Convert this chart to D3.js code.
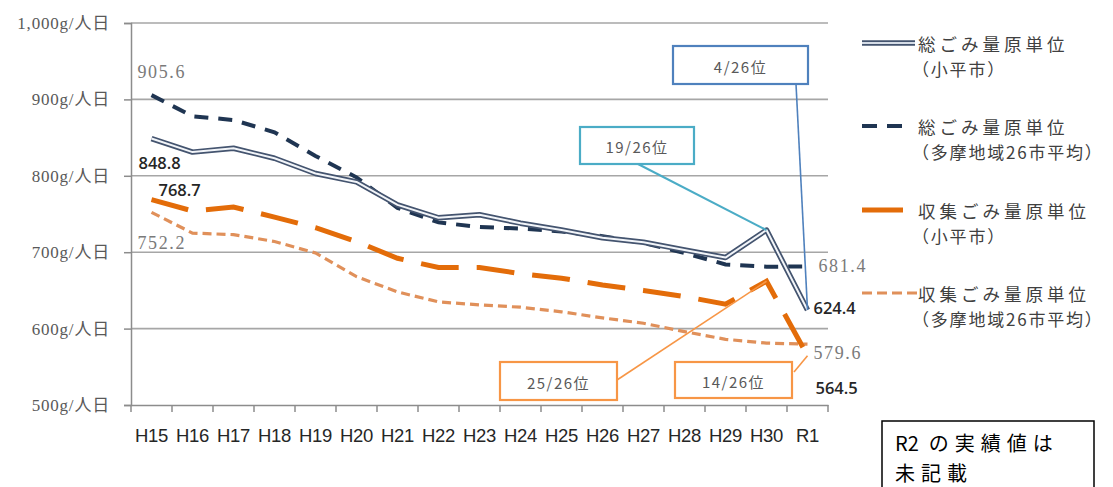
<!DOCTYPE html>
<html><head><meta charset="utf-8">
<script src="https://cdn.jsdelivr.net/npm/d3@7"></script>
<style>
html,body{margin:0;padding:0;background:#fff;}
svg{display:block;}
</style></head><body>
<svg id="chart" width="1113" height="487"></svg>
<script>
// Fiscal years (Heisei 15 .. Heisei 30, Reiwa 1)
const categories = ["H15","H16","H17","H18","H19","H20","H21","H22","H23","H24","H25","H26","H27","H28","H29","H30","R1"];

// g per person per day
const kodairaTotal     = [848.8, 831, 836, 823, 803, 792, 762, 745, 749, 738, 729, 719, 713, 703, 693, 729, 624.4];
const tamaTotal        = [905.6, 878, 873, 857, 826, 798, 758, 739, 733, 731, 727, 721, 712, 699, 684, 681, 681.4];
const kodairaCollected = [768.7, 754, 759, 746, 732, 714, 692, 680, 680, 672, 666, 657, 650, 642, 632, 662, 564.5];
const tamaCollected    = [752.2, 725, 723, 714, 699, 668, 648, 635, 631, 628, 622, 614, 607, 596, 586, 581, 579.6];

const yTicks = [500, 600, 700, 800, 900, 1000];

const seriesNames = [
  ["総ごみ量原単位", "（小平市）"],
  ["総ごみ量原単位", "（多摩地域26市平均）"],
  ["収集ごみ量原単位", "（小平市）"],
  ["収集ごみ量原単位", "（多摩地域26市平均）"]
];

// Rank among the 26 Tama cities
const rankTexts = ["4/26位", "19/26位", "25/26位", "14/26位"];
const noteLines = ["R2 の実績値は", "未記載"];

const svg = d3.select("#chart");
const x = d3.scaleBand().domain(categories).range([131, 828]).padding(0);
const y = d3.scaleLinear().domain([500, 1000]).range([405, 23]);
const cx = c => x(c) + x.bandwidth() / 2;

// grid
svg.append("g").selectAll("line").data(yTicks.slice(1)).join("line")
  .attr("x1", 131).attr("x2", 828)
  .attr("y1", d => y(d)).attr("y2", d => y(d))
  .attr("stroke", "#a6a6a6").attr("stroke-width", 1.6);

// y axis
const yAxis = svg.append("g").attr("transform", "translate(131,0)")
  .call(d3.axisLeft(y).tickValues(yTicks).tickSize(7).tickPadding(14)
    .tickFormat(d => d3.format(",")(d) + "g/人日"));
yAxis.select(".domain").attr("stroke", "#8c8c8c").attr("stroke-width", 1.5);
yAxis.selectAll(".tick line").attr("stroke", "#8c8c8c").attr("stroke-width", 1.5);
yAxis.selectAll(".tick text")
  .attr("font-family", "'Liberation Serif','Noto Sans CJK JP',serif")
  .attr("font-size", 17).attr("letter-spacing", "0.8px").attr("fill", "#595959");

// x axis: labels centred in each band, ticks on band edges
const xAxis = svg.append("g").attr("transform", "translate(0,405)")
  .call(d3.axisBottom(x).tickSize(0).tickPadding(24));
xAxis.select(".domain").attr("stroke", "#8c8c8c").attr("stroke-width", 1.5);
xAxis.selectAll(".tick text")
  .attr("font-family", "'Liberation Sans',sans-serif")
  .attr("font-size", 18.5).attr("letter-spacing", "-0.3px").attr("fill", "#262626");
const edges = categories.map(c => x(c)).concat([x(categories[categories.length - 1]) + x.bandwidth()]);
svg.append("g").selectAll("line").data(edges).join("line")
  .attr("x1", d => d).attr("x2", d => d).attr("y1", 405).attr("y2", 412)
  .attr("stroke", "#8c8c8c").attr("stroke-width", 1.5);

const line = d3.line().x((d, i) => cx(categories[i])).y(d => y(d));

// 収集ごみ量 (26市平均)
svg.append("path").datum(tamaCollected).attr("d", line)
  .attr("fill", "none").attr("stroke", "#e0905a").attr("stroke-width", 3.2)
  .attr("stroke-dasharray", "9,5");
// 収集ごみ量 (小平市)
svg.append("path").datum(kodairaCollected).attr("d", line)
  .attr("fill", "none").attr("stroke", "#e36c09").attr("stroke-width", 5)
  .attr("stroke-dasharray", "38,18");
// 総ごみ量 (26市平均)
svg.append("path").datum(tamaTotal).attr("d", line)
  .attr("fill", "none").attr("stroke", "#1f3552").attr("stroke-width", 4)
  .attr("stroke-dasharray", "14,10");
// 総ごみ量 (小平市): double line
svg.append("path").datum(kodairaTotal).attr("d", line)
  .attr("fill", "none").attr("stroke", "#44546f").attr("stroke-width", 5.5)
  .attr("stroke-linejoin", "round");
svg.append("path").datum(kodairaTotal).attr("d", line)
  .attr("fill", "none").attr("stroke", "#f2f5f9").attr("stroke-width", 2)
  .attr("stroke-linejoin", "round");

// value labels
const last = categories.length - 1;
const valueLabels = [
  { v: tamaTotal[0],            i: 0,    dx: -14, dy: -23, style: "serif" },
  { v: kodairaTotal[0],         i: 0,    dx: -13, dy: 24,  style: "sans" },
  { v: kodairaCollected[0],     i: 0,    dx: 7,   dy: -10, style: "sans" },
  { v: tamaCollected[0],        i: 0,    dx: -14, dy: 31,  style: "serif" },
  { v: tamaTotal[last],         i: last, dx: 11,  dy: 0,   style: "serif" },
  { v: kodairaTotal[last],      i: last, dx: 6,   dy: -2,  style: "sans" },
  { v: tamaCollected[last],     i: last, dx: 6,   dy: 9,   style: "serif" },
  { v: kodairaCollected[last],  i: last, dx: 8,   dy: 32,  style: "sans" }
];
svg.append("g").selectAll("text").data(valueLabels).join("text")
  .attr("x", d => cx(categories[d.i]) + d.dx)
  .attr("y", d => y(d.v) + d.dy)
  .attr("dominant-baseline", "central")
  .attr("font-family", d => d.style === "serif" ? "'Liberation Serif',serif" : "'Open Sans',sans-serif")
  .attr("font-size", d => d.style === "serif" ? 18 : 16.5)
  .attr("font-weight", d => d.style === "serif" ? 400 : 600)
  .attr("letter-spacing", d => d.style === "serif" ? "1.6px" : "0px")
  .attr("fill", d => d.style === "serif" ? "#7a7a7a" : "#262626")
  .text(d => d3.format(".1f")(d.v));

// rank callouts
const callouts = [
  { text: rankTexts[0], box: [673, 46, 135, 38], from: [796, 84],  to: [last, kodairaTotal[last]],         color: "#4f81bd", lw: 1.6 },
  { text: rankTexts[1], box: [580, 127, 114, 37], from: [638, 164], to: [last - 1, kodairaTotal[last - 1]], color: "#4bacc6", lw: 2 },
  { text: rankTexts[2], box: [500, 362, 117, 38], from: [617, 380], to: [last - 1, kodairaCollected[last - 1]], color: "#f79646", lw: 1.6 },
  { text: rankTexts[3], box: [675, 362, 117, 36], from: [794, 372], to: [last, kodairaCollected[last]],     color: "#f79646", lw: 1.6 }
];
const cg = svg.append("g");
cg.selectAll("line").data(callouts).join("line")
  .attr("x1", d => d.from[0]).attr("y1", d => d.from[1])
  .attr("x2", d => cx(categories[d.to[0]])).attr("y2", d => y(d.to[1]))
  .attr("stroke", d => d.color).attr("stroke-width", d => d.lw);
cg.selectAll("rect").data(callouts).join("rect")
  .attr("x", d => d.box[0]).attr("y", d => d.box[1])
  .attr("width", d => d.box[2]).attr("height", d => d.box[3])
  .attr("fill", "#fff").attr("stroke", d => d.color).attr("stroke-width", 2.2);
cg.selectAll("text").data(callouts).join("text")
  .attr("x", d => d.box[0] + d.box[2] / 2).attr("y", d => d.box[1] + d.box[3] / 2 + 1)
  .attr("text-anchor", "middle").attr("dominant-baseline", "central")
  .attr("font-family", "'Noto Sans CJK JP',sans-serif").attr("font-size", 15)
  .attr("letter-spacing", "1.5px").attr("fill", "#595959")
  .text(d => d.text);

// legend
const legendY = [43, 126, 210, 293];
const lg = svg.append("g");
const lx0 = 862;
// double line sample
lg.append("line").attr("x1", lx0).attr("x2", 915).attr("y1", legendY[0]).attr("y2", legendY[0])
  .attr("stroke", "#44546f").attr("stroke-width", 5.5);
lg.append("line").attr("x1", lx0).attr("x2", 915).attr("y1", legendY[0]).attr("y2", legendY[0])
  .attr("stroke", "#d5dce6").attr("stroke-width", 2);
lg.append("line").attr("x1", lx0).attr("x2", 902).attr("y1", legendY[1]).attr("y2", legendY[1])
  .attr("stroke", "#1f3552").attr("stroke-width", 4).attr("stroke-dasharray", "15,10");
lg.append("line").attr("x1", lx0).attr("x2", 903).attr("y1", legendY[2]).attr("y2", legendY[2])
  .attr("stroke", "#e36c09").attr("stroke-width", 5);
lg.append("line").attr("x1", lx0).attr("x2", 917).attr("y1", legendY[3]).attr("y2", legendY[3])
  .attr("stroke", "#e0905a").attr("stroke-width", 3.2).attr("stroke-dasharray", "10,5");
seriesNames.forEach((n, i) => {
  const t = lg.append("text")
    .attr("font-family", "'Noto Sans CJK JP',sans-serif").attr("font-size", 17.5)
    .attr("fill", "#404040");
  t.append("tspan").attr("x", 918).attr("y", legendY[i]).attr("dominant-baseline", "central")
    .attr("letter-spacing", "4px").text(n[0]);
  t.append("tspan").attr("x", 912).attr("y", legendY[i] + 25).attr("dominant-baseline", "central")
    .attr("font-size", 17).attr("letter-spacing", "1.8px").text(n[1]);
});

// note box: latin runs set tight, Japanese runs spaced out
svg.append("rect").attr("x", 882).attr("y", 421).attr("width", 212).attr("height", 80)
  .attr("fill", "#fff").attr("stroke", "#000").attr("stroke-width", 1.5);
const noteText = svg.append("g").selectAll("text").data(noteLines).join("text")
  .attr("x", 895).attr("y", (d, i) => 442 + i * 29.5)
  .attr("dominant-baseline", "central")
  .attr("font-family", "'Noto Sans CJK JP',sans-serif").attr("font-size", 20)
  .attr("fill", "#000");
noteText.each(function (d) {
  const runs = d.match(/[\x20-\x7e]+|[^\x20-\x7e]+/g);
  d3.select(this).selectAll("tspan").data(runs).join("tspan")
    .attr("letter-spacing", r => /^[\x20-\x7e]+$/.test(r) ? "0px" : "6px")
    .attr("xml:space", "preserve")
    .text(r => r.replace(/ $/, "\u2002"));
});
</script>
</body></html>
